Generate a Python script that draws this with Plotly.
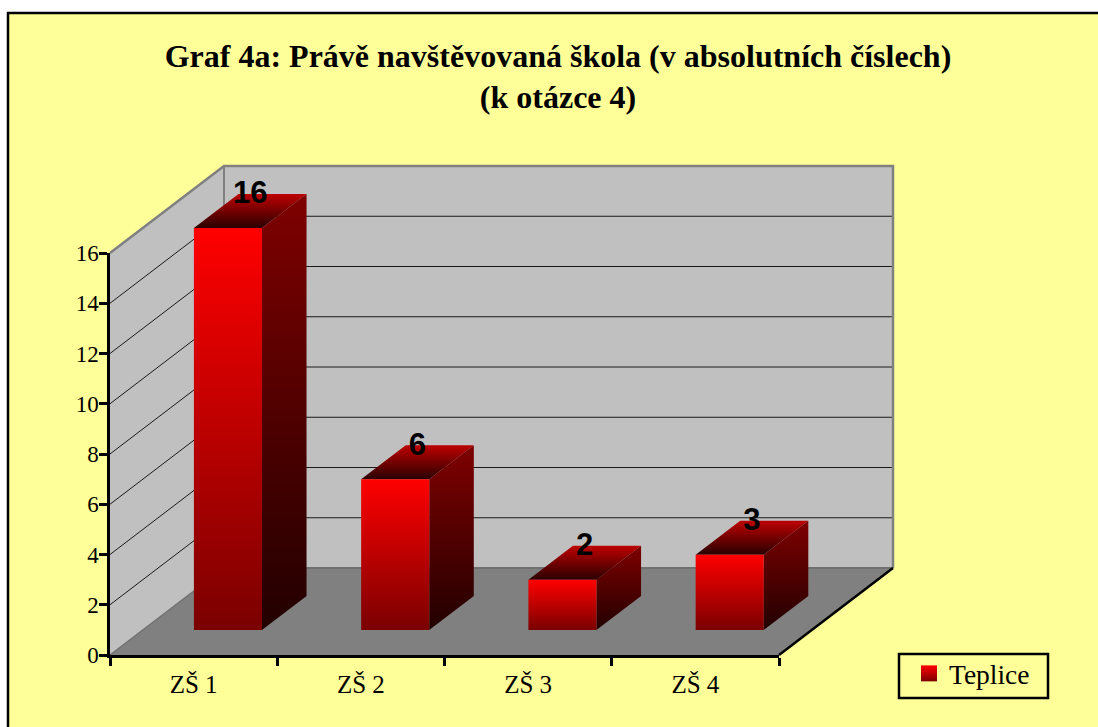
import plotly.graph_objects as go

# Data
categories = ["ZŠ 1", "ZŠ 2", "ZŠ 3", "ZŠ 4"]
series_name = "Teplice"
values = [16, 6, 2, 3]
y_ticks = [0, 2, 4, 6, 8, 10, 12, 14, 16]
title_text = "<b>Graf 4a: Právě navštěvovaná škola (v absolutních číslech)<br>(k otázce 4)</b>"

# Chart geometry
W, H = 1098, 727
AX_L, AX_R, AX_T, AX_B = 110, 779, 253, 655      # front plane of the axes
PAD = 10
L, R, T, B = AX_L - PAD, 903, 157, AX_B + PAD     # full plot frame (keeps wall edges unclipped)
UNIT_X = (AX_R - AX_L) / 4
UNIT_Y = (AX_B - AX_T) / 16
DX = 114 / UNIT_X
DY = 87 / UNIT_Y
BAR_X0, BAR_W = 0.306, 0.407
D0, D1 = 0.287, 0.678
LABEL_SHIFT = -1.5 / UNIT_Y

SERIF = "Liberation Serif, Times New Roman, serif"
SANS = "Liberation Sans, Arial, sans-serif"


def paper_x(px):
    return (px - L) / (R - L)


def paper_y(px):
    return (B - px) / (B - T)


def P(x, y, d=0.0):
    return x + d * DX, y + d * DY


def poly(points, color=None, grad=None):
    xs, ys = zip(*[P(*p) for p in points + [points[0]]])
    kw = dict(x=list(xs), y=list(ys), mode="lines", fill="toself", showlegend=False,
              hoverinfo="skip", line=dict(color="rgba(0,0,0,0)", width=0))
    if grad:
        kw["fillgradient"] = dict(type="vertical", start=min(ys), stop=max(ys),
                                  colorscale=[[0, grad[0]], [1, grad[1]]])
    else:
        kw["fillcolor"] = color
    return go.Scatter(**kw)


def seg(points, color, width):
    xs, ys = zip(*[P(*p) for p in points])
    return go.Scatter(x=list(xs), y=list(ys), mode="lines", showlegend=False, hoverinfo="skip",
                      line=dict(color=color, width=width))


n = len(categories)
top = y_ticks[-1]
fig = go.Figure()

# Walls and floor
fig.add_trace(poly([(0, 0, 0), (0, top, 0), (0, top, 1), (0, 0, 1)], "#C0C0C0"))
fig.add_trace(poly([(0, 0, 1), (0, top, 1), (n, top, 1), (n, 0, 1)], "#C0C0C0"))
fig.add_trace(poly([(0, 0, 0), (n, 0, 0), (n, 0, 1), (0, 0, 1)], "#808080"))

# Gridlines
for v in y_ticks[1:-1]:
    fig.add_trace(seg([(0, v, 0), (0, v, 1), (n, v, 1)], "#1a1a1a", 1))

# Wall edges
fig.add_trace(seg([(0, top, 0), (0, top, 1), (n, top, 1), (n, 0, 1)], "#808080", 2.5))
fig.add_trace(seg([(0, top, 1), (0, 0, 1)], "#808080", 2))
fig.add_trace(seg([(0, 0, 1), (n, 0, 1)], "#707070", 2))
fig.add_trace(seg([(0, 0, 0), (0, 0, 1)], "#707070", 1.5))

# Bars
for i, v in enumerate(values):
    x0, x1 = i + BAR_X0, i + BAR_X0 + BAR_W
    fig.add_trace(poly([(x0, v, D0), (x1, v, D0), (x1, v, D1), (x0, v, D1)],
                       grad=("#2A0000", "#BE0000")))
    fig.add_trace(poly([(x1, 0, D0), (x1, v, D0), (x1, v, D1), (x1, 0, D1)],
                       grad=("#220000", "#7F0000")))
    fig.add_trace(poly([(x0, 0, D0), (x1, 0, D0), (x1, v, D0), (x0, v, D0)],
                       grad=("#7A0000", "#FF0000")))

# Floor's right edge
fig.add_trace(seg([(n, 0, 0), (n, 0, 1)], "#000000", 2.5))

# Value labels
label_x = [P(i + BAR_X0 + BAR_W / 2, 0, (D0 + D1) / 2)[0] for i in range(n)]
label_y = [P(0, v, D1)[1] + LABEL_SHIFT for v in values]
fig.add_trace(go.Scatter(x=label_x, y=label_y, mode="text", text=[str(v) for v in values],
                         textposition="middle center", showlegend=False, hoverinfo="skip",
                         cliponaxis=False,
                         textfont=dict(family=SANS, size=31, color="#000000", weight="bold")))

# Values on the real axes (invisible: they carry the axis lines, ticks and labels)
fig.add_trace(go.Scatter(x=[i + 0.5 for i in range(n)], y=values, xaxis="x2", yaxis="y2",
                         mode="markers", marker=dict(opacity=0), showlegend=False, hoverinfo="skip"))

# Legend entry
fig.add_trace(go.Scatter(x=[None], y=[None], mode="markers", name=series_name, hoverinfo="skip",
                         marker=dict(symbol="square", size=17, color="#FF0000",
                                     gradient=dict(type="vertical", color="#7A0000"))))

hidden = dict(showgrid=False, zeroline=False, showline=False, showticklabels=False, ticks="")
fig.update_layout(
    width=W, height=H,
    margin=dict(l=L, r=W - R, t=T, b=H - B, pad=0),
    paper_bgcolor="#FFFFFF", plot_bgcolor="rgba(0,0,0,0)",
    font=dict(family=SERIF, color="#000000"),
    title=dict(text=title_text, x=558 / W, xanchor="center", xref="container", y=1 - 66.5 / H,
               yanchor="middle", yref="container", font=dict(family=SERIF, size=32, color="#000000")),
    xaxis=dict(range=[-PAD / UNIT_X, (R - AX_L) / UNIT_X], **hidden),
    yaxis=dict(range=[-PAD / UNIT_Y, (AX_B - T) / UNIT_Y], **hidden),
    xaxis2=dict(domain=[paper_x(AX_L), paper_x(AX_R)], anchor="y2", range=[0, n], showgrid=False,
                zeroline=False, showline=True, linecolor="#000000", linewidth=2.5,
                tickmode="array", tickvals=[i + 0.5 for i in range(n)], ticktext=categories,
                ticks="", ticklen=0, ticklabelstandoff=5, tickfont=dict(family=SERIF, size=25),
                minor=dict(tickmode="array", tickvals=list(range(n + 1)), ticks="outside",
                           ticklen=8, tickwidth=2.5, tickcolor="#000000", showgrid=False)),
    yaxis2=dict(domain=[paper_y(AX_B), paper_y(AX_T)], anchor="x2", range=[0, top], showgrid=False,
                zeroline=False, showline=True, linecolor="#000000", linewidth=2.5,
                tickmode="array", tickvals=y_ticks, ticks="outside", ticklen=8, tickwidth=2.5,
                tickcolor="#000000", ticklabelstandoff=-4, tickfont=dict(family=SERIF, size=23)),
    legend=dict(x=paper_x(899), y=paper_y(649), xanchor="left", yanchor="top",
                bgcolor="rgba(0,0,0,0)", borderwidth=0, indentation=10,
                font=dict(family=SERIF, size=27.5, color="#000000"), itemwidth=30),
    shapes=[
        dict(type="rect", xref="paper", yref="paper", layer="below",
             x0=paper_x(8), x1=paper_x(W + 20), y0=paper_y(H + 20), y1=paper_y(13),
             fillcolor="#FFFF99", line=dict(color="#000000", width=2.5)),
        dict(type="rect", xref="paper", yref="paper", layer="below",
             x0=paper_x(899), x1=paper_x(1048), y0=paper_y(698), y1=paper_y(654),
             fillcolor="#FFFF99", line=dict(color="#000000", width=2.5)),
    ],
)

fig.write_html("out.html", config={"displayModeBar": False},
               post_script="document.body.style.margin='0';document.body.style.overflow='hidden';")
